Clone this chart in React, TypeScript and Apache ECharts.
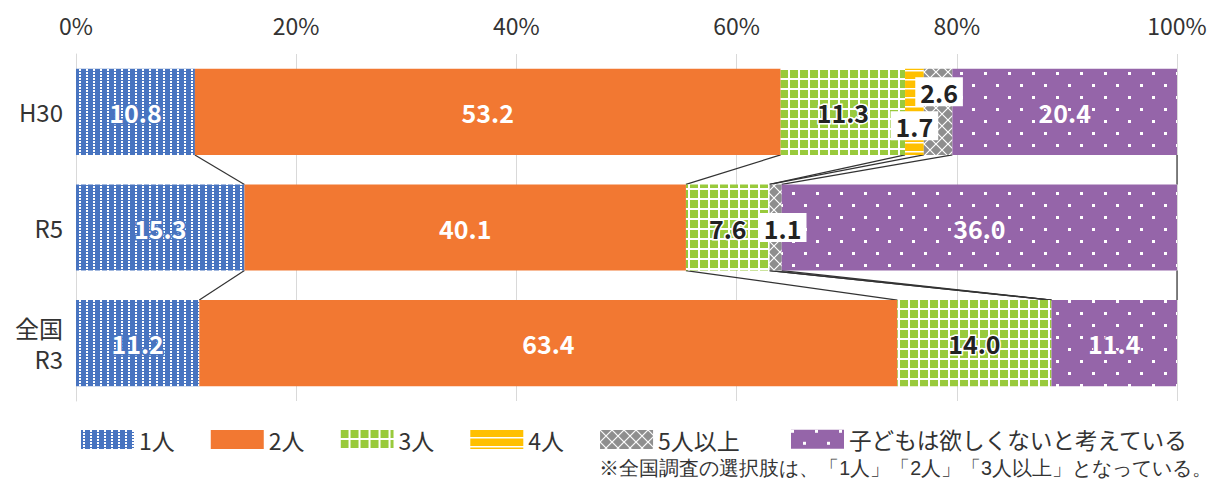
import React, { useEffect, useRef } from 'react';
import * as echarts from 'echarts';

const categories = ['H30', 'R5', '全国\nR3'];
const seriesNames = ['1人', '2人', '3人', '4人', '5人以上', '子どもは欲しくないと考えている'];
const one = [10.8, 15.3, 11.2];
const two = [53.2, 40.1, 63.4];
const three = [11.3, 7.6, 14.0];
const four = [1.7, null, null];
const fivePlus = [2.6, 1.1, null];
const noChild = [20.4, 36.0, 11.4];
const footnote = '※全国調査の選択肢は、「1人」「2人」「3人以上」となっている。';

const values: (number | null)[][] = [one, two, three, four, fivePlus, noChild];
const BAR_RATIO = 0.745;
const FONT = '"Noto Sans CJK JP", "Noto Sans", sans-serif';

function makePattern(w: number, h: number, draw: (ctx: CanvasRenderingContext2D) => void) {
  const c = document.createElement('canvas');
  c.width = w;
  c.height = h;
  const ctx = c.getContext('2d') as CanvasRenderingContext2D;
  draw(ctx);
  return { image: c, repeat: 'repeat', imageWidth: w, imageHeight: h } as any;
}

export default function App() {
  const ref = useRef<HTMLDivElement>(null);
  useEffect(() => {
    document.body.style.margin = '0';
    const chart = echarts.init(ref.current!, null, { renderer: 'svg' });

    const blue = '#4874C0';
    const orange = '#F27832';
    const green = '#99CA3C';
    const yellow = '#FFC000';
    const gray = '#8E8E8E';
    const purple = '#9565A9';

    const patterns: any[] = [
      makePattern(7, 3, (ctx) => {
        ctx.fillStyle = blue; ctx.fillRect(0, 0, 7, 3);
        ctx.fillStyle = '#fff'; ctx.fillRect(2, 0, 2, 2);
      }),
      orange,
      makePattern(10, 10, (ctx) => {
        ctx.fillStyle = green; ctx.fillRect(0, 0, 10, 10);
        ctx.fillStyle = '#fff'; ctx.fillRect(8, 0, 2, 10); ctx.fillRect(0, 8, 10, 2);
      }),
      makePattern(4, 9, (ctx) => {
        ctx.fillStyle = yellow; ctx.fillRect(0, 0, 4, 9);
        ctx.fillStyle = '#fff'; ctx.fillRect(0, 7, 4, 1.5);
      }),
      makePattern(12, 12, (ctx) => {
        ctx.fillStyle = gray; ctx.fillRect(0, 0, 12, 12);
        ctx.strokeStyle = '#fff'; ctx.lineWidth = 1.2;
        ctx.beginPath(); ctx.moveTo(0, 0); ctx.lineTo(12, 12); ctx.moveTo(12, 0); ctx.lineTo(0, 12); ctx.stroke();
      }),
      makePattern(24, 24, (ctx) => {
        ctx.fillStyle = purple; ctx.fillRect(0, 0, 24, 24);
        ctx.fillStyle = '#fff'; ctx.fillRect(0, 0, 3, 3); ctx.fillRect(12, 12, 3, 3);
      }),
    ];

    const labelBase = { fontSize: 25, fontWeight: 'bold', fontFamily: FONT };
    const labelStyles: any[] = [
      { color: '#fff', textBorderColor: blue, textBorderWidth: 3 },
      { color: '#fff' },
      { color: '#222', textBorderColor: '#fff', textBorderWidth: 3 },
      { color: '#222', backgroundColor: '#fff', padding: [3, 5, 1, 5] },
      { color: '#222', backgroundColor: '#fff', padding: [3, 5, 1, 5] },
      { color: '#fff', textBorderColor: purple, textBorderWidth: 2 },
    ];
    // label offsets per [series]-[category]
    const labelOffsets: Record<string, number[]> = {
      '3-0': [0, 14],
      '4-0': [1, -20],
      '4-1': [7, 0],
    };

    const barSeries = values.map((arr, si) => ({
      type: 'bar',
      name: seriesNames[si],
      stack: 'total',
      barWidth: BAR_RATIO * 100 + '%',
      itemStyle: { color: patterns[si] },
      label: {
        show: true,
        position: 'inside',
        ...labelBase,
        ...labelStyles[si],
        formatter: (p: any) => (p.value ? Number(p.value).toFixed(1) : ''),
      },
      data: arr.map((v, ci) => {
        const off = labelOffsets[si + '-' + ci];
        return off ? { value: v, label: { offset: off } } : v;
      }),
      z: 3,
    }));

    const totals = categories.map((_, ci) => {
      let acc = 0;
      return values.map((arr) => {
        acc += arr[ci] ?? 0;
        return Math.min(100, Math.round(acc * 10) / 10);
      });
    });
    const connectorData: number[][] = [];
    for (let ci = 0; ci < categories.length - 1; ci++) {
      for (let si = 0; si < values.length; si++) {
        connectorData.push([totals[ci][si], ci, totals[ci + 1][si], ci + 1]);
      }
    }

    const legendCommon = {
      top: 423,
      itemWidth: 53,
      itemHeight: 19,
      itemGap: 36,
      icon: 'rect',
      textStyle: { fontSize: 23, color: '#333', fontFamily: FONT },
      selectedMode: false,
    };

    const option: any = {
      animation: false,
      textStyle: { fontFamily: FONT },
      grid: { left: 76, right: 35, top: 54, bottom: 84, containLabel: false },
      xAxis: {
        type: 'value',
        position: 'top',
        min: 0,
        max: 100,
        interval: 20,
        axisLine: { show: false },
        axisTick: { show: false },
        axisLabel: { formatter: '{value}%', fontSize: 23, color: '#333', margin: 18, fontFamily: FONT },
        splitLine: { lineStyle: { color: '#d9d9d9', width: 1 } },
      },
      yAxis: {
        type: 'category',
        inverse: true,
        data: categories,
        axisLine: { show: true, lineStyle: { color: '#d9d9d9' } },
        axisTick: { show: false },
        axisLabel: { fontSize: 24, color: '#333', margin: 13, lineHeight: 31, fontFamily: FONT, align: 'right' },
      },
      legend: [
        { ...legendCommon, data: seriesNames.slice(0, 5), left: 76 },
        {
          ...legendCommon,
          data: seriesNames.slice(5),
          left: 786,
          textStyle: { ...legendCommon.textStyle, fontSize: 22.6 },
        },
      ],
      graphic: [
        {
          type: 'text',
          right: 0,
          top: 458,
          style: { text: footnote, fontSize: 19.6, fill: '#333', font: `19.6px ${FONT}` },
        },
      ],
      series: [
        ...barSeries,
        {
          type: 'custom',
          name: 'connector',
          silent: true,
          dimensions: ['x1', 'y1', 'x2', 'y2'],
          encode: { x: [0, 2], y: [1, 3] },
          data: connectorData,
          z: 1,
          renderItem: (params: any, api: any) => {
            const p1 = api.coord([api.value(0), api.value(1)]);
            const p2 = api.coord([api.value(2), api.value(3)]);
            const band = api.size([0, 1])[1];
            const half = (band * BAR_RATIO) / 2;
            return {
              type: 'line',
              shape: { x1: p1[0], y1: p1[1] + half, x2: p2[0], y2: p2[1] - half },
              style: { stroke: '#333', lineWidth: 1.2 },
            };
          },
        },
      ],
    };
    chart.setOption(option);
    return () => chart.dispose();
  }, []);
  return <div ref={ref} style={{ width: 1212, height: 485 }} />;
}
